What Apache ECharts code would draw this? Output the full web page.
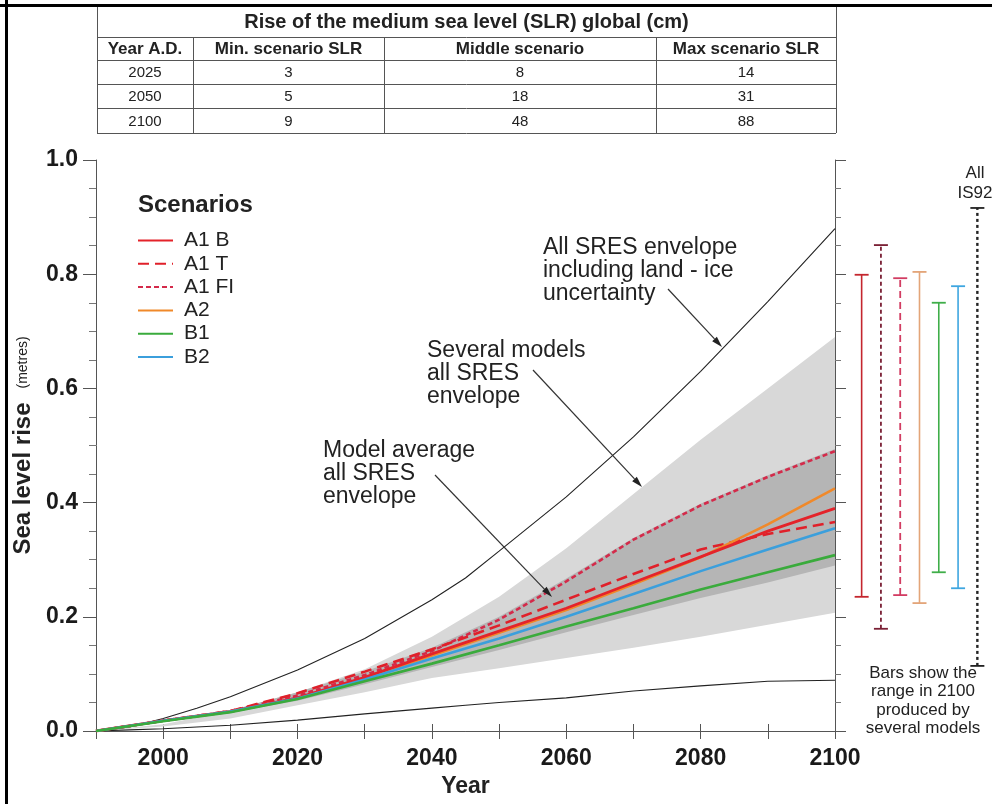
<!DOCTYPE html>
<html>
<head>
<meta charset="utf-8">
<title>Sea level rise</title>
<script src="https://cdn.jsdelivr.net/npm/echarts@6.0.0/dist/echarts.min.js"></script>
<style>
  html, body { margin: 0; padding: 0; background: #fff; }
  #chart { width: 992px; height: 804px; }
</style>
</head>
<body>
<div id="chart"></div>
<script>
  // table above the chart (cm)
  const tableTitle = 'Rise of the medium sea level (SLR) global (cm)';
  const tableHeader = ['Year A.D.', 'Min. scenario SLR', 'Middle scenario', 'Max scenario SLR'];
  const tableYears = ['2025', '2050', '2100'];
  const tableMin = [3, 5, 9];
  const tableMiddle = [8, 18, 48];
  const tableMax = [14, 31, 88];

  // envelope lines incl. land-ice uncertainty (metres)
  const envYears = [1990, 1995, 2000, 2005, 2010, 2020, 2030, 2040, 2045, 2050, 2060, 2070, 2080, 2090, 2100];
  const envHigh = [0, 0.007, 0.022, 0.04, 0.06, 0.107, 0.162, 0.23, 0.268, 0.315, 0.41, 0.515, 0.63, 0.752, 0.88];
  const envLow = [0, 0.002, 0.004, 0.007, 0.01, 0.019, 0.03, 0.04, 0.045, 0.05, 0.058, 0.07, 0.079, 0.087, 0.089];

  // model bands and scenarios
  const years = [1990, 2000, 2010, 2020, 2030, 2040, 2050, 2060, 2070, 2080, 2090, 2100];
  const severalHigh = [0, 0.012, 0.035, 0.068, 0.108, 0.165, 0.235, 0.32, 0.415, 0.51, 0.6, 0.69];
  const severalLow = [0, 0.008, 0.022, 0.045, 0.068, 0.093, 0.11, 0.128, 0.146, 0.165, 0.186, 0.207];
  const averageHigh = [0, 0.018, 0.036, 0.068, 0.104, 0.146, 0.2, 0.267, 0.338, 0.398, 0.448, 0.494];
  const averageLow = [0, 0.016, 0.032, 0.053, 0.082, 0.112, 0.142, 0.173, 0.203, 0.233, 0.26, 0.29];

  const a1b = [0, 0.018, 0.034, 0.058, 0.094, 0.135, 0.175, 0.215, 0.26, 0.305, 0.35, 0.39];
  const a1t = [0, 0.018, 0.035, 0.066, 0.104, 0.143, 0.185, 0.23, 0.275, 0.318, 0.345, 0.366];
  const a1fi = [0, 0.018, 0.035, 0.062, 0.098, 0.14, 0.195, 0.262, 0.335, 0.395, 0.445, 0.49];
  const a2 = [0, 0.018, 0.034, 0.057, 0.092, 0.132, 0.172, 0.212, 0.257, 0.304, 0.362, 0.425];
  const b1 = [0, 0.017, 0.033, 0.056, 0.087, 0.118, 0.15, 0.183, 0.215, 0.248, 0.278, 0.308];
  const b2 = [0, 0.018, 0.034, 0.057, 0.09, 0.127, 0.162, 0.2, 0.24, 0.28, 0.318, 0.355];

  // ranges in 2100 (bars right of the plot)
  const rangeNames = ['A1 B', 'A1 T', 'A1 FI', 'A2', 'B1', 'B2', 'IS92'];
  const rangeLow = [0.235, 0.179, 0.238, 0.224, 0.278, 0.25, 0.114];
  const rangeHigh = [0.799, 0.851, 0.793, 0.804, 0.75, 0.779, 0.916];

  const rangeStyles = [
    { color: '#c4262e', width: 1.6, dash: null },
    { color: '#7a2035', width: 1.8, dash: [4, 3] },
    { color: '#d23c62', width: 1.8, dash: [7, 4] },
    { color: '#e3a579', width: 1.6, dash: null },
    { color: '#3fae49', width: 1.6, dash: null },
    { color: '#3ea6e0', width: 1.6, dash: null },
    { color: '#222222', width: 2.4, dash: [3, 3] },
  ];

  const font = '"Liberation Sans", Arial, Helvetica, sans-serif';
  const pairs = (xs, ys) => xs.map((x, i) => [x, ys[i]]);

  const chart = echarts.init(document.getElementById('chart'));

  // table as graphic elements
  const colX = [97, 193, 384, 656, 836];
  const rowY = [5, 37, 60, 84, 108, 133];
  const tableLine = { stroke: '#555', lineWidth: 1 };
  const tableEls = [];
  rowY.slice(1).forEach(y => {
    tableEls.push({ type: 'line', shape: { x1: colX[0], y1: y + 0.5, x2: colX[4], y2: y + 0.5 }, style: tableLine });
  });
  [colX[0], colX[4]].forEach(x => {
    tableEls.push({ type: 'line', shape: { x1: x + 0.5, y1: rowY[0], x2: x + 0.5, y2: rowY[5] }, style: tableLine });
  });
  colX.slice(1, 4).forEach(x => {
    tableEls.push({ type: 'line', shape: { x1: x + 0.5, y1: rowY[1], x2: x + 0.5, y2: rowY[5] }, style: tableLine });
  });
  const cellText = (text, col, row, bold, size) => ({
    type: 'text',
    style: {
      text, x: (colX[col] + colX[col + 1]) / 2, y: (rowY[row] + rowY[row + 1]) / 2 + 1,
      align: 'center', verticalAlign: 'middle', fill: '#222',
      font: (bold ? 'bold ' : '') + size + 'px ' + font,
    },
  });
  tableEls.push({
    type: 'text',
    style: {
      text: tableTitle, x: (colX[0] + colX[4]) / 2, y: (rowY[0] + rowY[1]) / 2 + 1,
      align: 'center', verticalAlign: 'middle', fill: '#222', font: 'bold 20px ' + font,
    },
  });
  tableHeader.forEach((h, c) => tableEls.push(cellText(h, c, 1, true, 17)));
  tableYears.forEach((yr, r) => {
    tableEls.push(cellText(yr, 0, r + 2, false, 15));
    tableEls.push(cellText(String(tableMin[r]), 1, r + 2, false, 15));
    tableEls.push(cellText(String(tableMiddle[r]), 2, r + 2, false, 15));
    tableEls.push(cellText(String(tableMax[r]), 3, r + 2, false, 15));
  });

  function arrow(x1, y1, x2, y2) {
    const a = Math.atan2(y2 - y1, x2 - x1), L = 11, W = 3.2;
    const bx = x2 - L * Math.cos(a), by = y2 - L * Math.sin(a);
    const px = -Math.sin(a) * W, py = Math.cos(a) * W;
    return [
      { type: 'line', shape: { x1, y1, x2: bx, y2: by }, style: { stroke: '#333', lineWidth: 1.2 }, z: 10 },
      { type: 'polygon', shape: { points: [[x2, y2], [bx + px, by + py], [bx - px, by - py]] }, style: { fill: '#222' }, z: 10 },
    ];
  }

  const note = (text, x, y, size, lh, align, bold) => ({
    type: 'text', z: 10,
    style: {
      text, x, y, align: align || 'left', verticalAlign: 'top', fill: '#222',
      font: (bold ? 'bold ' : '') + size + 'px ' + font, lineHeight: lh,
    },
  });

  const graphics = [
    { type: 'rect', shape: { x: 0, y: 4, width: 992, height: 3 }, style: { fill: '#000' }, z: 20 },
    { type: 'rect', shape: { x: 5, y: 0, width: 3, height: 804 }, style: { fill: '#000' }, z: 20 },
    ...tableEls,
    note('Scenarios', 138, 193, 24, 24, 'left', true),
    note('All SRES envelope\nincluding land - ice\nuncertainty', 543, 236, 23, 23),
    note('Several models\nall SRES\nenvelope', 427, 339, 23, 23),
    note('Model average\nall SRES\nenvelope', 323, 439, 23, 23),
    note('All\nIS92', 975, 163, 17, 20, 'center'),
    note('Bars show the\nrange in 2100\nproduced by\nseveral models', 923, 664, 17, 18.5, 'center'),
    ...arrow(668, 289, 722, 347),
    ...arrow(533, 370, 642, 487),
    ...arrow(435, 475, 552, 597),
  ];

  const lineSeries = (name, data, color, width, dash) => ({
    name, type: 'line', data: pairs(years, data), symbol: 'none', silent: true,
    lineStyle: { color, width, type: dash || 'solid' },
    itemStyle: { color },
  });

  // filled band between two value lists, drawn through the axis scale
  const bandSeries = (hi, lo, color) => ({
    type: 'custom', silent: true, data: [[years[0], 0]],
    renderItem(params, api) {
      const top = years.map((y, i) => api.coord([y, hi[i]]));
      const bottom = years.map((y, i) => api.coord([y, lo[i]])).reverse();
      return { type: 'polygon', shape: { points: top.concat(bottom) }, style: { fill: color } };
    },
  });

  const axisColor = '#555';

  chart.setOption({
    animation: false,
    textStyle: { fontFamily: font },
    graphic: graphics,
    legend: {
      orient: 'vertical', left: 137, top: 230, padding: 0, itemWidth: 35, itemHeight: 14, itemGap: 2.3,
      data: ['A1 B', 'A1 T', 'A1 FI', 'A2', 'B1', 'B2'],
      itemStyle: { opacity: 0 },
      textStyle: { fontSize: 21, lineHeight: 21, color: '#222', padding: [0, 0, 0, 6] },
      selectedMode: false,
    },
    grid: [
      { left: 96, right: 157, top: 160, bottom: 73, outerBoundsMode: 'none' },
      { left: 852, right: 5, top: 160, bottom: 73, outerBoundsMode: 'none' },
    ],
    xAxis: [
      {
        type: 'value', gridIndex: 0, min: 1990, max: 2100, interval: 10,
        name: 'Year', nameLocation: 'middle', nameGap: 44,
        nameTextStyle: { fontSize: 23, fontWeight: 'bold', color: '#222' },
        axisLine: { show: true, lineStyle: { color: axisColor } },
        axisTick: { show: true, length: 8, lineStyle: { color: axisColor } },
        axisLabel: {
          margin: 16, fontSize: 23, fontWeight: 'bold', color: '#1a1a1a',
          formatter: v => (v % 20 === 0 ? String(v) : ''),
        },
        splitLine: { show: false },
      },
      {
        type: 'value', gridIndex: 0, position: 'top', min: 1990, max: 2100, interval: 10,
        axisLine: { show: true, lineStyle: { color: axisColor } },
        axisTick: { show: true, length: 7, lineStyle: { color: axisColor } },
        axisLabel: { show: false },
        splitLine: { show: false },
      },
      {
        type: 'category', gridIndex: 1, data: rangeNames,
        axisLine: { show: false }, axisTick: { show: false }, axisLabel: { show: false },
      },
    ],
    yAxis: [
      {
        type: 'value', gridIndex: 0, min: 0, max: 1, interval: 0.2,
        name: '{a|Sea level rise}{b|(metres)}', nameLocation: 'middle', nameRotate: 90, nameGap: 60,
        nameTextStyle: {
          rich: {
            a: { fontSize: 24, fontWeight: 'bold', color: '#222', fontFamily: font },
            b: { fontSize: 14, color: '#222', fontFamily: font, padding: [0, 0, 0, 14] },
          },
        },
        axisLine: { show: true, lineStyle: { color: axisColor } },
        axisTick: { show: true, length: 13, lineStyle: { color: axisColor } },
        minorTick: { show: true, splitNumber: 4, length: 7, lineStyle: { color: '#777' } },
        axisLabel: { margin: 18, fontSize: 23, fontWeight: 'bold', color: '#1a1a1a', formatter: v => v.toFixed(1) },
        splitLine: { show: false },
      },
      {
        type: 'value', gridIndex: 0, position: 'right', min: 0, max: 1, interval: 0.2,
        axisLine: { show: true, lineStyle: { color: axisColor } },
        axisTick: { show: true, length: 11, lineStyle: { color: axisColor } },
        minorTick: { show: true, splitNumber: 4, length: 6, lineStyle: { color: '#777' } },
        axisLabel: { show: false },
        splitLine: { show: false },
      },
      {
        type: 'value', gridIndex: 1, min: 0, max: 1,
        axisLine: { show: false }, axisTick: { show: false }, axisLabel: { show: false },
        splitLine: { show: false },
      },
    ],
    series: [
      bandSeries(severalHigh, severalLow, '#d8d8d8'),
      bandSeries(averageHigh, averageLow, '#b5b5b5'),
      {
        name: 'envHigh', type: 'line', data: pairs(envYears, envHigh), symbol: 'none', silent: true,
        lineStyle: { color: '#222', width: 1.1 },
      },
      {
        name: 'envLow', type: 'line', data: pairs(envYears, envLow), symbol: 'none', silent: true,
        lineStyle: { color: '#222', width: 1.1 },
      },
      lineSeries('A1 FI', a1fi, '#d42a4a', 2.6, [5, 3]),
      lineSeries('A1 T', a1t, '#e0202a', 2.6, [11, 6]),
      lineSeries('A2', a2, '#f0892a', 2.6),
      lineSeries('A1 B', a1b, '#e4232a', 2.8),
      lineSeries('B2', b2, '#3b9fdc', 2.6),
      lineSeries('B1', b1, '#3aab3c', 2.6),
      {
        name: 'ranges', type: 'custom', xAxisIndex: 2, yAxisIndex: 2, silent: true,
        data: rangeNames.map((n, i) => [i, rangeLow[i], rangeHigh[i]]),
        renderItem(params, api) {
          const lo = api.coord([api.value(0), api.value(1)]);
          const hi = api.coord([api.value(0), api.value(2)]);
          const s = rangeStyles[params.dataIndex];
          const capStyle = { stroke: s.color, lineWidth: 1.8 };
          return {
            type: 'group',
            children: [
              { type: 'line', shape: { x1: lo[0], y1: lo[1], x2: hi[0], y2: hi[1] },
                style: { stroke: s.color, lineWidth: s.width, lineDash: s.dash } },
              { type: 'line', shape: { x1: hi[0] - 7, y1: hi[1], x2: hi[0] + 7, y2: hi[1] }, style: capStyle },
              { type: 'line', shape: { x1: lo[0] - 7, y1: lo[1], x2: lo[0] + 7, y2: lo[1] }, style: capStyle },
            ],
          };
        },
      },
    ],
  });
</script>
</body>
</html>
